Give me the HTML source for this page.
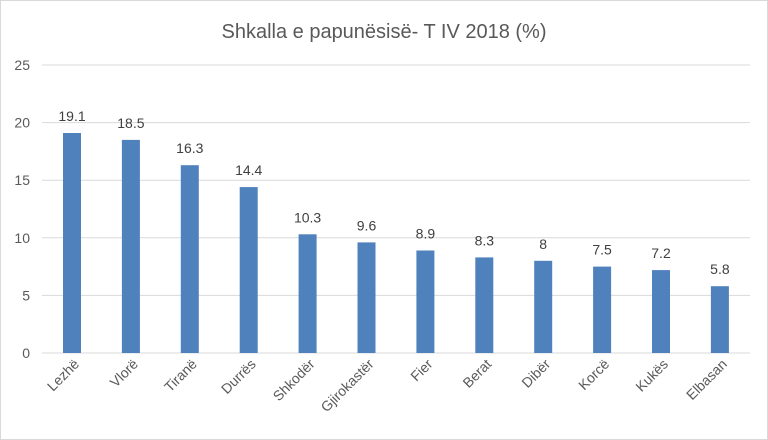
<!DOCTYPE html>
<html><head><meta charset="utf-8"><style>body{margin:0;background:#fff}svg{display:block}</style></head>
<body>
<svg width="768" height="440" xmlns="http://www.w3.org/2000/svg" font-family="Liberation Sans, sans-serif">
<rect x="0.5" y="0.5" width="767" height="439" fill="#fff" stroke="#d9d9d9"/>
<text x="384" y="38" text-anchor="middle" font-size="20" fill="#595959">Shkalla e papunësisë- T IV 2018 (%)</text>
<g stroke="#d9d9d9" stroke-width="1">
<line x1="42" x2="750" y1="65" y2="65"/><line x1="42" x2="750" y1="122.6" y2="122.6"/>
<line x1="42" x2="750" y1="180.2" y2="180.2"/><line x1="42" x2="750" y1="237.8" y2="237.8"/>
<line x1="42" x2="750" y1="295.4" y2="295.4"/><line x1="42" x2="750" y1="353" y2="353"/>
</g>
<g font-size="14" fill="#595959" text-anchor="end">
<text x="30" y="70">25</text><text x="30" y="127.6">20</text><text x="30" y="185.2">15</text>
<text x="30" y="242.8">10</text><text x="30" y="300.4">5</text><text x="30" y="358">0</text>
</g>
<g fill="#4f81bd">
<rect x="63" y="133" width="18" height="220"/>
<rect x="121.9" y="139.9" width="18" height="213.1"/>
<rect x="180.8" y="165.2" width="18" height="187.8"/>
<rect x="239.7" y="187.1" width="18" height="165.9"/>
<rect x="298.6" y="234.3" width="18" height="118.7"/>
<rect x="357.5" y="242.4" width="18" height="110.6"/>
<rect x="416.4" y="250.5" width="18" height="102.5"/>
<rect x="475.3" y="257.4" width="18" height="95.6"/>
<rect x="534.2" y="260.8" width="18" height="92.2"/>
<rect x="593.1" y="266.6" width="18" height="86.4"/>
<rect x="652" y="270.1" width="18" height="82.9"/>
<rect x="710.9" y="286.2" width="18" height="66.8"/>
</g>
<g font-size="14" fill="#404040" text-anchor="middle">
<text x="72" y="121">19.1</text>
<text x="130.9" y="127.9">18.5</text>
<text x="189.8" y="153.2">16.3</text>
<text x="248.7" y="175.1">14.4</text>
<text x="307.6" y="222.3">10.3</text>
<text x="366.5" y="230.4">9.6</text>
<text x="425.4" y="238.5">8.9</text>
<text x="484.3" y="245.4">8.3</text>
<text x="543.2" y="248.8">8</text>
<text x="602.1" y="254.6">7.5</text>
<text x="661" y="258.1">7.2</text>
<text x="719.9" y="274.2">5.8</text>
</g>
<g font-size="14" fill="#595959" text-anchor="end">
<text transform="translate(80,365) rotate(-45)">Lezhë</text>
<text transform="translate(138.9,365) rotate(-45)">Vlorë</text>
<text transform="translate(197.8,365) rotate(-45)">Tiranë</text>
<text transform="translate(256.7,365) rotate(-45)">Durrës</text>
<text transform="translate(315.6,365) rotate(-45)">Shkodër</text>
<text transform="translate(374.5,365) rotate(-45)">Gjirokastër</text>
<text transform="translate(433.4,365) rotate(-45)">Fier</text>
<text transform="translate(492.3,365) rotate(-45)">Berat</text>
<text transform="translate(551.2,365) rotate(-45)">Dibër</text>
<text transform="translate(610.1,365) rotate(-45)">Korcë</text>
<text transform="translate(669,365) rotate(-45)">Kukës</text>
<text transform="translate(727.9,365) rotate(-45)">Elbasan</text>
</g>
</svg>
</body></html>
